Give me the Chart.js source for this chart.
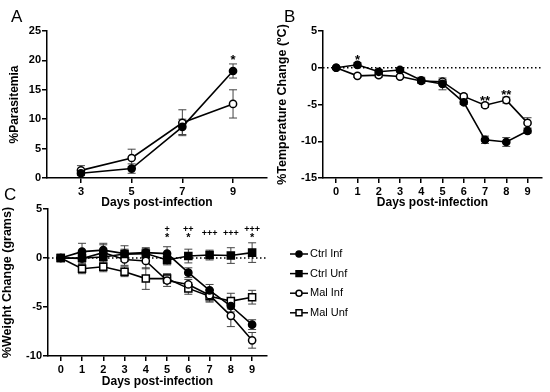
<!DOCTYPE html>
<html>
<head>
<meta charset="utf-8">
<script src="https://cdn.jsdelivr.net/npm/chart.js@4.4.1/dist/chart.umd.min.js"></script>
<style>
  html, body { margin: 0; padding: 0; background: #fff; }
  #wrap { position: relative; width: 550px; height: 392px; }
  #wrap canvas { position: absolute; left: 0; top: 0; }
</style>
</head>
<body>
<div id="wrap">
  <canvas id="chartA" width="550" height="392"></canvas>
  <canvas id="chartB" width="550" height="392"></canvas>
  <canvas id="chartC" width="550" height="392"></canvas>
</div>
<script>
// Panel A - parasitemia
const daysA = [3, 5, 7, 9];
const paraCtrlInf = [0.8, 1.6, 8.7, 18.2];
const paraCtrlInfErr = [0.4, 0.8, 1.3, 1.2];
const paraMalInf = [1.3, 3.4, 9.4, 12.6];
const paraMalInfErr = [0.8, 1.5, 2.2, 2.4];
const yTicksA = [0, 5, 10, 15, 20, 25];
const sigA = [{ day: 9, y: 20.6, text: '*' }];

// Panel B - temperature change
const daysB = [0, 1, 2, 3, 4, 5, 6, 7, 8, 9];
const tempCtrlInf = [0, 0.4, -0.55, -0.3, -1.7, -2.2, -4.7, -9.8, -10.1, -8.6];
const tempCtrlInfErr = [0, 0.3, 0.3, 0.3, 0.4, 0.8, 0.3, 0.5, 0.6, 0.3];
const tempMalInf = [0, -1.1, -1.0, -1.2, -1.8, -1.9, -3.9, -5.1, -4.4, -7.5];
const tempMalInfErr = [0, 0.2, 0.3, 0.2, 0.3, 0.3, 0.3, 0.3, 0.4, 0.7];
const yTicksB = [-15, -10, -5, 0, 5];
const sigB = [
  { day: 1, y: 1.45, text: '*' },
  { day: 7, y: -4.1, text: '**' },
  { day: 8, y: -3.3, text: '**' }
];

// Panel C - weight change
const daysC = [0, 1, 2, 3, 4, 5, 6, 7, 8, 9];
const wtCtrlInf = [0, 0.65, 0.8, 0.45, 0.55, 0.45, -1.5, -3.3, -4.9, -6.8];
const wtCtrlInfErr = [0, 0.85, 0.7, 0.8, 0.5, 0.7, 0.5, 0.6, 0.6, 0.5];
const wtCtrlUnf = [0, 0.0, 0.1, 0.4, 0.45, -0.2, 0.2, 0.3, 0.25, 0.55];
const wtCtrlUnfErr = [0, 0.5, 0.6, 0.5, 0.5, 0.5, 0.7, 0.5, 0.8, 1.0];
const wtMalInf = [0, -0.05, 0.55, -0.15, -0.3, -2.3, -2.7, -3.8, -5.9, -8.4];
const wtMalInfErr = [0, 0.6, 0.8, 0.6, 0.8, 0.6, 0.5, 0.6, 1.1, 0.8];
const wtMalUnf = [0, -1.1, -0.9, -1.4, -2.1, -2.1, -3.1, -3.9, -4.4, -4.0];
const wtMalUnfErr = [0, 0.5, 0.5, 0.5, 1.1, 0.5, 0.6, 0.6, 0.8, 0.7];
const yTicksC = [-10, -5, 0, 5];
const sigC = [
  { day: 5, y: 3.0, text: '+' }, { day: 5, y: 2.35, text: '*' },
  { day: 6, y: 3.0, text: '++' }, { day: 6, y: 2.35, text: '*' },
  { day: 7, y: 2.5, text: '+++' },
  { day: 8, y: 2.5, text: '+++' },
  { day: 9, y: 3.0, text: '+++' }, { day: 9, y: 2.35, text: '*' }
];

Chart.defaults.font.family = "'Liberation Sans', Arial, sans-serif";
Chart.defaults.color = '#000';

// vertical error bars with caps, drawn under lines and markers
const errorBars = {
  id: 'errorBars',
  beforeDatasetsDraw(chart) {
    const { ctx, scales: { x, y } } = chart;
    ctx.save();
    ctx.strokeStyle = '#444';
    ctx.lineWidth = 1;
    chart.data.datasets.forEach(ds => {
      if (!ds.err) return;
      ds.data.forEach((p, j) => {
        const e = ds.err[j];
        if (!e) return;
        const px = x.getPixelForValue(p.x);
        const top = y.getPixelForValue(p.y + e);
        const bot = y.getPixelForValue(p.y - e);
        ctx.beginPath();
        ctx.moveTo(px, top); ctx.lineTo(px, bot);
        ctx.moveTo(px - 4, top); ctx.lineTo(px + 4, top);
        ctx.moveTo(px - 4, bot); ctx.lineTo(px + 4, bot);
        ctx.stroke();
      });
    });
    ctx.restore();
  }
};

// dotted baseline at zero
const zeroLine = {
  id: 'zeroLine',
  beforeDatasetsDraw(chart, args, opts) {
    if (!opts.show) return;
    const { ctx, chartArea, scales: { y } } = chart;
    const py = y.getPixelForValue(0);
    ctx.save();
    ctx.strokeStyle = '#000';
    ctx.lineWidth = 1.5;
    ctx.setLineDash([1.5, 2.5]);
    ctx.beginPath();
    ctx.moveTo(chartArea.left, py);
    ctx.lineTo(chartArea.right, py);
    ctx.stroke();
    ctx.restore();
  }
};

// significance marks and panel letter
const marks = {
  id: 'marks',
  afterDraw(chart, args, opts) {
    const { ctx, scales: { x, y } } = chart;
    ctx.save();
    ctx.fillStyle = '#000';
    ctx.textAlign = 'center';
    ctx.textBaseline = 'middle';
    (opts.items || []).forEach(m => {
      const star = m.text.includes('*');
      const size = star ? opts.starSize : opts.plusSize;
      ctx.font = `bold ${size}px 'Liberation Sans', Arial, sans-serif`;
      const shift = star ? size * 0.28 : size * 0.05;
      ctx.fillText(m.text, x.getPixelForValue(m.day), y.getPixelForValue(m.y) + shift);
    });
    if (opts.letter) {
      ctx.font = "17px 'Liberation Sans', Arial, sans-serif";
      ctx.textAlign = 'left';
      ctx.textBaseline = 'alphabetic';
      ctx.fillText(opts.letter.text, opts.letter.x, opts.letter.y);
    }
    ctx.restore();
  }
};

// legend to the right of panel C: line + marker + label
const sideLegend = {
  id: 'sideLegend',
  afterDraw(chart, args, opts) {
    if (!opts.show) return;
    const ctx = chart.ctx;
    ctx.save();
    chart.data.datasets.forEach((ds, i) => {
      const y = opts.top + i * opts.gap;
      ctx.strokeStyle = '#000';
      ctx.lineWidth = 1.5;
      ctx.beginPath();
      ctx.moveTo(opts.left, y);
      ctx.lineTo(opts.left + 18, y);
      ctx.stroke();
      ctx.fillStyle = ds.pointBackgroundColor;
      Chart.helpers.drawPoint(ctx, {
        pointStyle: ds.pointStyle,
        radius: ds.pointStyle === 'rect' ? 4.2 : 3,
        borderWidth: 1.3,
        rotation: 0
      }, opts.left + 9, y);
      ctx.fillStyle = '#000';
      ctx.font = "11px 'Liberation Sans', Arial, sans-serif";
      ctx.textAlign = 'left';
      ctx.textBaseline = 'middle';
      ctx.fillText(ds.label, opts.left + 20, y);
    });
    ctx.restore();
  }
};

function series(label, days, vals, err, pointStyle, filled) {
  return {
    label,
    data: days.map((d, i) => ({ x: d, y: vals[i] })),
    err,
    borderColor: '#000',
    borderWidth: 1.6,
    tension: 0,
    pointStyle,
    pointRadius: pointStyle === 'rect' ? 5 : 3.6,
    pointBorderWidth: 1.5,
    pointBorderColor: '#000',
    pointBackgroundColor: filled ? '#000' : '#fff'
  };
}

function xAxis(min, max, ticks, height) {
  return {
    type: 'linear', min, max,
    afterBuildTicks: s => { s.ticks = ticks.map(v => ({ value: v })); },
    afterFit: s => { s.height = height; },
    border: { color: '#000', width: 1.5 },
    grid: { drawOnChartArea: false, color: '#000', lineWidth: 1.5, tickLength: 5 },
    ticks: { color: '#000', font: { size: 11, weight: 'bold' }, padding: 2, maxRotation: 0 },
    title: { display: true, text: 'Days post-infection', color: '#000', font: { size: 12, weight: 'bold' }, padding: 0 }
  };
}

function yAxis(min, max, ticks, width, text, size, pad) {
  return {
    type: 'linear', min, max,
    afterBuildTicks: s => { s.ticks = ticks.map(v => ({ value: v })); },
    afterFit: s => { s.width = width; },
    border: { color: '#000', width: 1.5 },
    grid: { drawOnChartArea: false, color: '#000', lineWidth: 1.5, tickLength: 5 },
    ticks: { color: '#000', font: { size: 11, weight: 'bold' }, padding: 1 },
    title: { display: true, text, color: '#000', font: { size, weight: 'bold' }, padding: { top: pad, bottom: 0 } }
  };
}

function makeChart(id, datasets, scales, padding, pluginOpts) {
  return new Chart(document.getElementById(id), {
    type: 'line',
    data: { datasets },
    options: {
      responsive: false,
      animation: false,
      devicePixelRatio: 1,
      layout: { padding, autoPadding: false },
      scales,
      plugins: Object.assign({ legend: { display: false }, tooltip: { enabled: false } }, pluginOpts)
    },
    plugins: [errorBars, zeroLine, marks, sideLegend]
  });
}

makeChart('chartA',
  [
    series('Ctrl Inf', daysA, paraCtrlInf, paraCtrlInfErr, 'circle', true),
    series('Mal Inf', daysA, paraMalInf, paraMalInfErr, 'circle', false)
  ],
  {
    x: xAxis(1.66, 10.34, daysA, 32),
    y: yAxis(0, 25, yTicksA, 47, '%Parasitemia', 12, 7)
  },
  { left: 0, right: 283, top: 31, bottom: 182 },
  {
    zeroLine: { show: false },
    sideLegend: { show: false },
    marks: { items: sigA, starSize: 13, plusSize: 9, letter: { text: 'A', x: 11, y: 22 } }
  }
);

makeChart('chartB',
  [
    series('Ctrl Inf', daysB, tempCtrlInf, tempCtrlInfErr, 'circle', true),
    series('Mal Inf', daysB, tempMalInf, tempMalInfErr, 'circle', false)
  ],
  {
    x: xAxis(-0.62, 9.68, daysB, 32),
    y: yAxis(-15, 5, yTicksB, 48, '%Temperature Change (ºC)', 12.5, 0)
  },
  { left: 275, right: 8, top: 31, bottom: 182 },
  {
    zeroLine: { show: true },
    sideLegend: { show: false },
    marks: { items: sigB, starSize: 13, plusSize: 9, letter: { text: 'B', x: 284, y: 22 } }
  }
);

makeChart('chartC',
  [
    series('Ctrl Inf', daysC, wtCtrlInf, wtCtrlInfErr, 'circle', true),
    series('Ctrl Unf', daysC, wtCtrlUnf, wtCtrlUnfErr, 'rect', true),
    series('Mal Inf', daysC, wtMalInf, wtMalInfErr, 'circle', false),
    series('Mal Unf', daysC, wtMalUnf, wtMalUnfErr, 'rect', false)
  ],
  {
    x: xAxis(-0.6, 9.7, daysC, 33),
    y: yAxis(-10, 5, yTicksC, 48, '%Weight Change (grams)', 12.5, 0)
  },
  { left: 0, right: 283, top: 209, bottom: 3 },
  {
    zeroLine: { show: true },
    sideLegend: { show: true, left: 290, top: 254, gap: 19.6 },
    marks: { items: sigC, starSize: 11, plusSize: 9, letter: { text: 'C', x: 4, y: 200 } }
  }
);
</script>
</body>
</html>
